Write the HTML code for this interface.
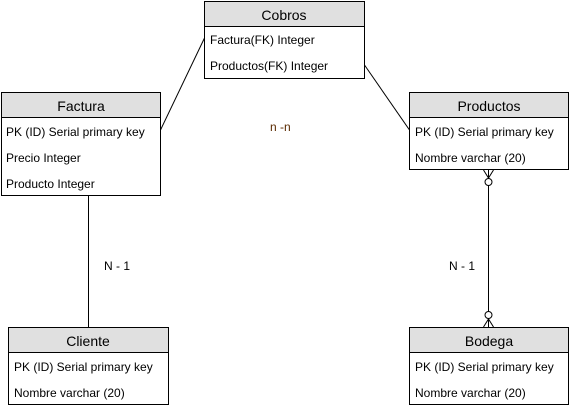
<!DOCTYPE html>
<html><head><meta charset="utf-8"><style>
html,body{margin:0;padding:0;background:#fff;}
svg{display:block;}
text{font-family:"Liberation Sans",Arial,sans-serif;}
.h{font-size:14px;text-anchor:middle;fill:#000;}
.r{font-size:12px;fill:#000;}
</style></head><body>
<svg width="569" height="409" viewBox="0 0 569 409" xmlns="http://www.w3.org/2000/svg">
<g stroke="#000" stroke-width="1" fill="none">
<line x1="204.5" y1="38" x2="160.5" y2="130"/>
<line x1="364.5" y1="65" x2="409.5" y2="130"/>
<line x1="88.5" y1="195" x2="88.5" y2="327"/>
<line x1="488.5" y1="170" x2="488.5" y2="327"/>
<path d="M483.5 170 L488.5 178 L493.5 170 M488.5 178 V170"/>
<circle cx="488.5" cy="182" r="3.5" fill="#fff"/>
<path d="M483.5 327 L488.5 319 L493.5 327"/>
<circle cx="488.5" cy="315" r="3.5" fill="#fff"/>
</g>
<g stroke="#000" stroke-width="1">
<rect x="204.5" y="1.5" width="160" height="77" fill="#fff"/>
<rect x="204.5" y="1.5" width="160" height="25" fill="#e0e0e0"/>
<rect x="1.5" y="92.5" width="159" height="103" fill="#fff"/>
<rect x="1.5" y="92.5" width="159" height="25" fill="#e0e0e0"/>
<rect x="409.5" y="92.5" width="159" height="77" fill="#fff"/>
<rect x="409.5" y="92.5" width="159" height="25" fill="#e0e0e0"/>
<rect x="8.5" y="327.5" width="160" height="77" fill="#fff"/>
<rect x="8.5" y="327.5" width="160" height="25" fill="#e0e0e0"/>
<rect x="409.5" y="327.5" width="159" height="77" fill="#fff"/>
<rect x="409.5" y="327.5" width="159" height="25" fill="#e0e0e0"/>
</g>
<text class="h" x="284" y="20">Cobros</text>
<text class="r" x="210" y="44">Factura(FK) Integer</text>
<text class="r" x="210" y="70">Productos(FK) Integer</text>
<text class="h" x="81" y="111">Factura</text>
<text class="r" x="6" y="136">PK (ID) Serial primary key</text>
<text class="r" x="6" y="162">Precio Integer</text>
<text class="r" x="6" y="188">Producto Integer</text>
<text class="h" x="489" y="111">Productos</text>
<text class="r" x="415" y="136">PK (ID) Serial primary key</text>
<text class="r" x="415" y="162">Nombre varchar (20)</text>
<text class="h" x="88" y="346">Cliente</text>
<text class="r" x="14" y="371">PK (ID) Serial primary key</text>
<text class="r" x="14" y="397">Nombre varchar (20)</text>
<text class="h" x="489" y="346">Bodega</text>
<text class="r" x="415" y="371">PK (ID) Serial primary key</text>
<text class="r" x="415" y="397">Nombre varchar (20)</text>
<text class="r" x="270" y="131" fill="#5a2a00" style="fill:#5a2a00">n -n</text>
<text class="r" x="104" y="270">N - 1</text>
<text class="r" x="449" y="270">N - 1</text>
</svg>
</body></html>
